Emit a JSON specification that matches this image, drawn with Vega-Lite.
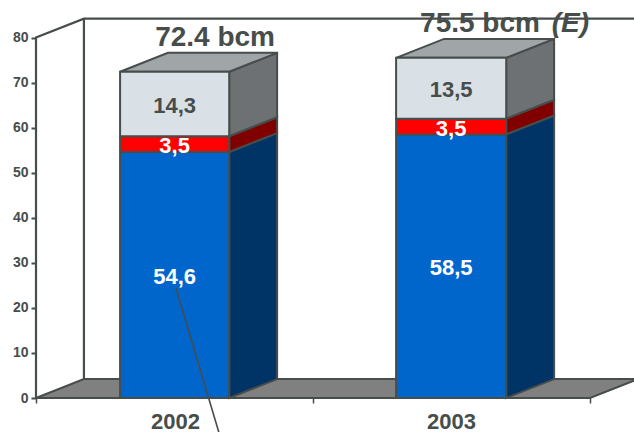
{
  "$schema": "https://vega.github.io/schema/vega-lite/v6.json",
  "width": 634,
  "height": 432,
  "autosize": "none",
  "padding": 0,
  "background": "white",
  "datasets": {
    "segments": [
      {"year": "2002", "part": "base", "order": 1, "value": 54.6, "left": 0.3035, "right": 0.6975},
      {"year": "2002", "part": "middle", "order": 2, "value": 3.5, "left": 0.3035, "right": 0.6975},
      {"year": "2002", "part": "upper", "order": 3, "value": 14.3, "left": 0.3035, "right": 0.6975},
      {"year": "2003", "part": "base", "order": 1, "value": 58.5, "left": 1.3, "right": 1.6975},
      {"year": "2003", "part": "middle", "order": 2, "value": 3.5, "left": 1.3, "right": 1.6975},
      {"year": "2003", "part": "upper", "order": 3, "value": 13.5, "left": 1.3, "right": 1.6975}
    ],
    "faces": [
      {"face": "floor", "kind": "floor", "x": 0, "lo": 0, "hi": 0},
      {"face": "floor", "kind": "floor", "x": 0.173, "lo": 0, "hi": 4.2},
      {"face": "floor", "kind": "floor", "x": 2, "lo": 0, "hi": 4.2},
      {"face": "floor", "kind": "floor", "x": 2.173, "lo": 4.2, "hi": 4.2}
    ],
    "extrusion": [
      {"face": "s1", "kind": "base side", "x": 0.6975, "lo": 0, "hi": 54.6},
      {"face": "s1", "kind": "base side", "x": 0.8705, "lo": 4.2, "hi": 58.8},
      {"face": "s2", "kind": "middle side", "x": 0.6975, "lo": 54.6, "hi": 58.1},
      {"face": "s2", "kind": "middle side", "x": 0.8705, "lo": 58.8, "hi": 62.3},
      {"face": "s3", "kind": "upper side", "x": 0.6975, "lo": 58.1, "hi": 72.4},
      {"face": "s3", "kind": "upper side", "x": 0.8705, "lo": 62.3, "hi": 76.6},
      {"face": "t1", "kind": "top", "x": 0.3035, "lo": 72.4, "hi": 72.4},
      {"face": "t1", "kind": "top", "x": 0.4765, "lo": 72.4, "hi": 76.6},
      {"face": "t1", "kind": "top", "x": 0.6975, "lo": 72.4, "hi": 76.6},
      {"face": "t1", "kind": "top", "x": 0.8705, "lo": 76.6, "hi": 76.6},
      {"face": "s4", "kind": "base side", "x": 1.6975, "lo": 0, "hi": 58.5},
      {"face": "s4", "kind": "base side", "x": 1.8705, "lo": 4.2, "hi": 62.7},
      {"face": "s5", "kind": "middle side", "x": 1.6975, "lo": 58.5, "hi": 62},
      {"face": "s5", "kind": "middle side", "x": 1.8705, "lo": 62.7, "hi": 66.2},
      {"face": "s6", "kind": "upper side", "x": 1.6975, "lo": 62, "hi": 75.5},
      {"face": "s6", "kind": "upper side", "x": 1.8705, "lo": 66.2, "hi": 79.7},
      {"face": "t2", "kind": "top", "x": 1.3, "lo": 75.5, "hi": 75.5},
      {"face": "t2", "kind": "top", "x": 1.473, "lo": 75.5, "hi": 79.7},
      {"face": "t2", "kind": "top", "x": 1.6975, "lo": 75.5, "hi": 79.7},
      {"face": "t2", "kind": "top", "x": 1.8705, "lo": 79.7, "hi": 79.7}
    ],
    "frame": [
      {"path": "side wall", "step": 1, "x": 0, "y": 0},
      {"path": "side wall", "step": 2, "x": 0, "y": 80},
      {"path": "side wall", "step": 3, "x": 0.173, "y": 84.2},
      {"path": "side wall", "step": 4, "x": 2.2, "y": 84.2},
      {"path": "back edge", "step": 1, "x": 0.173, "y": 4.2},
      {"path": "back edge", "step": 2, "x": 0.173, "y": 84.2}
    ],
    "leader": [
      {"step": 1, "x": 0.5045, "y": 24.5},
      {"step": 2, "x": 0.662, "y": -8}
    ],
    "totals": [
      {"text": "72.4 bcm", "x": 0.6465, "y": 78.2}
    ],
    "estimate": [
      {"text": "75.5 bcm", "x": 1.3865, "y": 81.2}
    ],
    "estimateFlag": [
      {"text": "(E)", "x": 1.862, "y": 81.2}
    ]
  },
  "layer": [
    {
      "data": {"name": "faces"},
      "mark": {"type": "area", "orient": "vertical", "stroke": "#464d4b", "strokeWidth": 2, "clip": false},
      "encoding": {
        "x": {
          "field": "x", "type": "quantitative",
          "scale": {"domain": [-0.13, 2.1589], "nice": false, "zero": false},
          "axis": {"orient": "bottom", "values": [0, 1, 2], "labels": false, "title": null, "grid": false, "domain": false, "offset": -34, "tickSize": 5, "tickWidth": 1.5, "tickColor": "#464d4b"}
        },
        "y": {
          "field": "hi", "type": "quantitative", "stack": null,
          "scale": {"domain": [-7.545, 88.33], "nice": false, "zero": false},
          "axis": {"orient": "left", "values": [0, 10, 20, 30, 40, 50, 60, 70, 80], "title": null, "grid": false, "domain": false, "offset": -36, "tickSize": 5, "tickWidth": 2, "tickColor": "#464d4b", "labelFont": "Liberation Sans", "labelFontWeight": "bold", "labelFontSize": 14, "labelColor": "#464d4b", "labelPadding": 3, "labelOverlap": false, "labelFlush": false}
        },
        "y2": {"field": "lo"},
        "detail": {"field": "face"},
        "color": {
          "field": "kind", "type": "nominal", "legend": null,
          "scale": {
            "domain": ["floor", "base side", "middle side", "upper side", "top", "base", "middle", "upper"],
            "range": ["#808080", "#003366", "#800000", "#6d7174", "#a0a5a8", "#0066cc", "#ff0000", "#d9e0e6"]
          }
        }
      }
    },
    {
      "data": {"name": "frame"},
      "mark": {"type": "line", "color": "#464d4b", "strokeWidth": 2.2},
      "encoding": {
        "x": {"field": "x", "type": "quantitative", "axis": null},
        "y": {"field": "y", "type": "quantitative", "axis": null},
        "detail": {"field": "path"},
        "order": {"field": "step"}
      }
    },
    {
      "data": {"name": "extrusion"},
      "mark": {"type": "area", "orient": "vertical", "stroke": "#464d4b", "strokeWidth": 2},
      "encoding": {
        "x": {"field": "x", "type": "quantitative", "axis": null},
        "y": {"field": "hi", "type": "quantitative", "stack": null, "axis": null},
        "y2": {"field": "lo"},
        "detail": {"field": "face"},
        "color": {"field": "kind", "type": "nominal", "legend": null}
      }
    },
    {
      "data": {"name": "segments"},
      "transform": [
        {"stack": "value", "groupby": ["year"], "sort": [{"field": "order", "order": "ascending"}], "as": ["low", "high"]}
      ],
      "mark": {"type": "rect", "stroke": "#464d4b", "strokeWidth": 2},
      "encoding": {
        "x": {"field": "left", "type": "quantitative", "axis": null},
        "x2": {"field": "right"},
        "y": {"field": "low", "type": "quantitative", "axis": null},
        "y2": {"field": "high"},
        "color": {"field": "part", "type": "nominal", "legend": null}
      }
    },
    {
      "data": {"values": [{"tick": 0.5018, "name": "2002"}, {"tick": 1.498, "name": "2003"}]},
      "mark": {"type": "tick", "opacity": 0},
      "encoding": {
        "x": {
          "field": "tick", "type": "quantitative",
          "axis": {"orient": "bottom", "values": [0.5018, 1.498], "labelExpr": "datum.value < 1 ? '2002' : '2003'", "title": null, "grid": false, "domain": false, "ticks": false, "offset": -34, "labelPadding": 13, "labelFont": "Liberation Sans", "labelFontWeight": "bold", "labelFontSize": 22, "labelColor": "#464d4b", "labelOverlap": false, "labelFlush": false}
        }
      }
    },
    {
      "data": {"name": "leader"},
      "mark": {"type": "line", "color": "#464d4b", "strokeWidth": 1.6},
      "encoding": {
        "x": {"field": "x", "type": "quantitative", "axis": null},
        "y": {"field": "y", "type": "quantitative", "axis": null},
        "order": {"field": "step"}
      }
    },
    {
      "data": {"name": "segments"},
      "transform": [
        {"stack": "value", "groupby": ["year"], "sort": [{"field": "order", "order": "ascending"}], "as": ["low", "high"]},
        {"calculate": "(datum.low + datum.high) / 2", "as": "mid"},
        {"calculate": "(datum.left + datum.right) / 2", "as": "center"}
      ],
      "mark": {
        "type": "text", "font": "Liberation Sans", "fontWeight": "bold", "fontSize": 22,
        "baseline": "middle", "align": "center", "dy": 2,
        "text": {"expr": "replace(format(datum.value, '.1f'), '.', ',')"}
      },
      "encoding": {
        "x": {"field": "center", "type": "quantitative", "axis": null},
        "y": {"field": "mid", "type": "quantitative", "axis": null},
        "fill": {"condition": {"test": "datum.part === 'upper'", "value": "#464d4b"}, "value": "white"}
      }
    },
    {
      "data": {"name": "totals"},
      "mark": {"type": "text", "font": "Liberation Sans", "fontWeight": "bold", "fontSize": 28, "align": "center", "baseline": "alphabetic", "color": "#464d4b"},
      "encoding": {
        "x": {"field": "x", "type": "quantitative", "axis": null},
        "y": {"field": "y", "type": "quantitative", "axis": null},
        "text": {"field": "text"}
      }
    },
    {
      "data": {"name": "estimate"},
      "mark": {"type": "text", "font": "Liberation Sans", "fontWeight": "bold", "fontSize": 28, "align": "left", "baseline": "alphabetic", "color": "#464d4b"},
      "encoding": {
        "x": {"field": "x", "type": "quantitative", "axis": null},
        "y": {"field": "y", "type": "quantitative", "axis": null},
        "text": {"field": "text"}
      }
    },
    {
      "data": {"name": "estimateFlag"},
      "mark": {"type": "text", "font": "Liberation Sans", "fontWeight": "bold", "fontStyle": "italic", "fontSize": 28, "align": "left", "baseline": "alphabetic", "color": "#464d4b"},
      "encoding": {
        "x": {"field": "x", "type": "quantitative", "axis": null},
        "y": {"field": "y", "type": "quantitative", "axis": null},
        "text": {"field": "text"}
      }
    }
  ],
  "resolve": {"axis": {"x": "independent", "y": "independent"}},
  "config": {"view": {"stroke": null}}
}
